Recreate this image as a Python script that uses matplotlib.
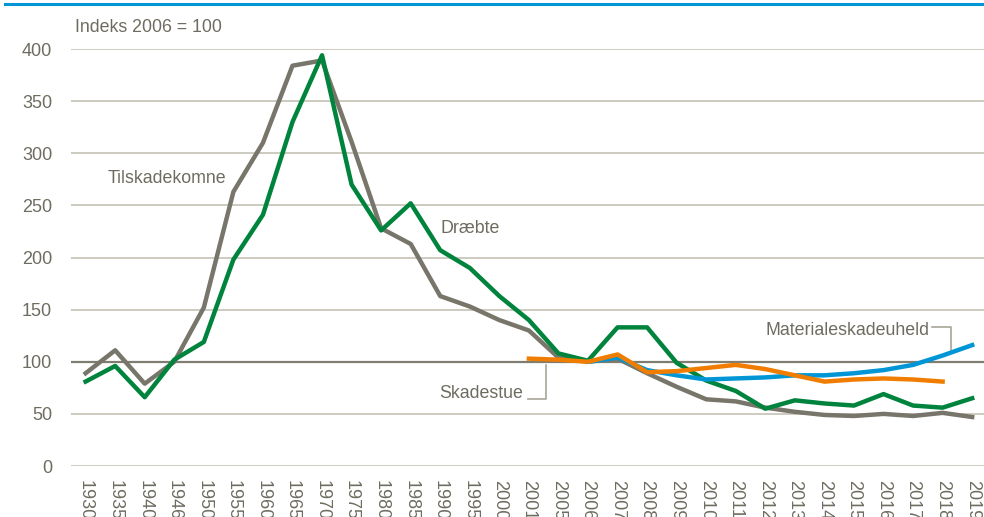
import matplotlib.pyplot as plt
import numpy as np

plt.rcParams['font.family'] = ['Liberation Sans', 'DejaVu Sans']

years = ["1930", "1935", "1940", "1946", "1950", "1955", "1960", "1965", "1970",
         "1975", "1980", "1985", "1990", "1995", "2000", "2001", "2005", "2006",
         "2007", "2008", "2009", "2010", "2011", "2012", "2013", "2014", "2015",
         "2016", "2017", "2018", "2019"]

tilskadekomne = [89, 111, 79, 100, 152, 263, 310, 384, 389, 311, 228, 213, 163, 153,
                 140, 130, 104, 100, 103, 89, 76, 64, 62, 56, 52, 49, 48, 50, 48, 51, 47]
draebte = [81, 96, 66, 102, 119, 198, 241, 330, 394, 270, 226, 252, 207, 190,
           163, 140, 108, 101, 133, 133, 99, 82, 72, 55, 63, 60, 58, 69, 58, 56, 65]
# starts at 2006
materiale = [100, 104, 92, 87, 83, 84, 85, 87, 87, 89, 92, 97, 106, 116]
# starts at 2001, ends 2018
skadestue = [103, 102, 100, 107, 90, 91, 94, 97, 93, 87, 81, 83, 84, 83, 81]

grey = "#78766A"
green = "#00843D"
blue = "#0096D6"
orange = "#F07D00"
txt = "#6E6C60"
lead = "#A8A698"

x = np.arange(len(years))
i06 = years.index("2006")
i01 = years.index("2001")

fig = plt.figure(figsize=(9.84, 5.17), dpi=100)
ax = fig.add_axes([0.072, 0.0986, 0.931, 0.8066])

for v in range(0, 401, 50):
    ax.axhline(v, color="#C9C7BA" if v != 100 else "#7F7C70",
               lw=1.3 if v != 100 else 1.6, zorder=1)

ax.plot(x, tilskadekomne, color=grey, lw=3.2, zorder=3, clip_on=False)
ax.plot(x, draebte, color=green, lw=3.2, zorder=4, clip_on=False)
ax.plot(x[i06:], materiale, color=blue, lw=3.2, zorder=5, clip_on=False)
ax.plot(x[i01:i01 + len(skadestue)], skadestue, color=orange, lw=3.2, zorder=6,
        clip_on=False)

ax.set_xlim(-0.5, len(years) - 0.5)
ax.set_ylim(0, 400)
ax.set_yticks(range(0, 401, 50))
ax.set_xticks(x)
ax.set_xticklabels(years, rotation=-90, va="top", ha="center")
ax.tick_params(axis="both", length=0, labelsize=13, colors=txt)
ax.tick_params(axis="y", pad=13.5)
ax.tick_params(axis="x", pad=10)
for s in ax.spines.values():
    s.set_visible(False)

fs = 12.8
ax.text(-0.35, 421, "Indeks 2006 = 100", fontsize=fs, color=txt, va="center",
        clip_on=False)
ax.text(0.75, 276, "Tilskadekomne", fontsize=fs, color=txt, va="center")
ax.text(12.0, 228, "Dræbte", fontsize=fs, color=txt, va="center")
ax.text(28.55, 130, "Materialeskadeuheld", fontsize=fs, color=txt, va="center",
        ha="right")
ax.text(14.8, 70, "Skadestue", fontsize=fs, color=txt, va="center", ha="right")

# leader lines
ax.plot([14.97, 15.58, 15.58], [64, 64, 97], color=lead, lw=1.2, zorder=2)
ax.plot([28.65, 29.3, 29.3], [133, 133, 111], color=lead, lw=1.2, zorder=2)

# top rule
fig.add_artist(plt.Line2D([0.005, 1.0], [0.993, 0.993], color=blue, lw=2.2))

plt.savefig("out.png", dpi=100)
